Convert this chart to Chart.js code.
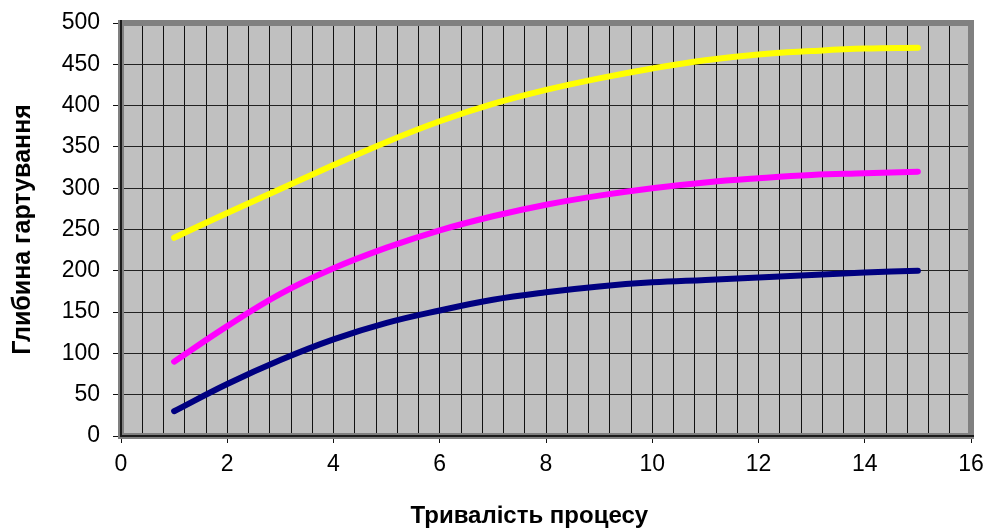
<!DOCTYPE html>
<html>
<head>
<meta charset="utf-8">
<script src="https://cdn.jsdelivr.net/npm/chart.js@4.4.1/dist/chart.umd.min.js"></script>
<style>
  html,body{margin:0;padding:0;background:#fff;}
  #wrap{width:986px;height:529px;}
</style>
</head>
<body>
<div id="wrap"><canvas id="chart" width="986" height="529"></canvas></div>
<script>
// process duration (x) and hardening depth for three series
const xValues = [1,2,3,4,5,6,7,8,9,10,11,12,13,14,15];
const depthTop = [240,270,299,328,356,381,402,419,433,445,455,462,466,469,470];
const depthMid = [90,133,172,203,228,249,266,280,291,300,307,312,316,318,320];
const depthLow = [30,63,92,117,137,152,165,174,181,186,189,192,195,198,200];

const xLabelStep = 2;
const xGridStep = 0.4;
const yStep = 50;

const FONT = "'Liberation Sans', Arial, sans-serif";

function pts(ys){ return xValues.map((x,i)=>({x, y: ys[i]})); }

function series(data, color){
  return {
    data: pts(data),
    borderColor: color,
    backgroundColor: color,
    borderWidth: 6,
    borderCapStyle: 'round',
    borderJoinStyle: 'round',
    pointRadius: 0,
    tension: 0.4,
    fill: false
  };
}

const plotFrame = {
  id: 'plotFrame',
  beforeDraw(chart){
    const {ctx, chartArea: a} = chart;
    ctx.save();
    ctx.fillStyle = '#c0c0c0';
    ctx.fillRect(a.left, a.top, a.right - a.left, a.bottom - a.top);
    ctx.restore();
  },
  beforeDatasetsDraw(chart){
    const {ctx, chartArea: a} = chart;
    ctx.save();
    ctx.strokeStyle = '#808080';
    ctx.lineWidth = 6;
    ctx.strokeRect(a.left, a.top, a.right - a.left, a.bottom - a.top);
    // dark axis lines on left and bottom
    ctx.strokeStyle = '#1a1a1a';
    ctx.lineWidth = 2;
    ctx.beginPath();
    ctx.moveTo(a.left, a.top - 3);
    ctx.lineTo(a.left, a.bottom);
    ctx.lineTo(a.right + 3, a.bottom);
    ctx.stroke();
    ctx.restore();
  }
};

const isMajor = v => Math.abs(v/xLabelStep - Math.round(v/xLabelStep)) < 1e-6;

new Chart(document.getElementById('chart'), {
  type: 'line',
  data: {
    datasets: [
      series(depthTop, '#ffff00'),
      series(depthMid, '#ff00ff'),
      series(depthLow, '#000080')
    ]
  },
  options: {
    responsive: false,
    animation: false,
    layout: {padding: {top: 23, right: 15, left: 0, bottom: 0}},
    plugins: {legend: {display: false}, tooltip: {enabled: false}},
    scales: {
      x: {
        type: 'linear',
        min: 0, max: 16,
        afterFit(s){ s.height = 93; s.paddingLeft = 0; s.paddingRight = 0; },
        border: {display: false},
        grid: {
          color: '#111',
          lineWidth: 1,
          tickLength: 7,
          tickColor: c => isMajor(c.tick.value) ? '#111' : 'rgba(0,0,0,0)'
        },
        ticks: {
          stepSize: xGridStep,
          autoSkip: false,
          maxRotation: 0,
          padding: 8,
          color: '#000',
          font: {family: FONT, size: 23},
          callback: v => isMajor(v) ? String(Math.round(v)) : ''
        },
        title: {
          display: true,
          text: 'Тривалість процесу     ',
          color: '#000',
          font: {family: FONT, size: 24, weight: 'bold', lineHeight: 1},
          padding: {top: 0, bottom: 1}
        }
      },
      y: {
        min: 0, max: 500,
        afterFit(s){ s.width = 121; s.paddingTop = 0; s.paddingBottom = 0; },
        border: {display: false},
        grid: {color: '#222', lineWidth: 1, tickLength: 8, tickColor: '#111'},
        ticks: {
          stepSize: yStep,
          padding: 13,
          color: '#000',
          font: {family: FONT, size: 23}
        },
        title: {
          display: true,
          text: 'Глибина гартування',
          color: '#000',
          font: {family: FONT, size: 25, weight: 'bold', lineHeight: 1},
          padding: {top: 11, bottom: 0}
        }
      }
    }
  },
  plugins: [plotFrame]
});
</script>
</body>
</html>
